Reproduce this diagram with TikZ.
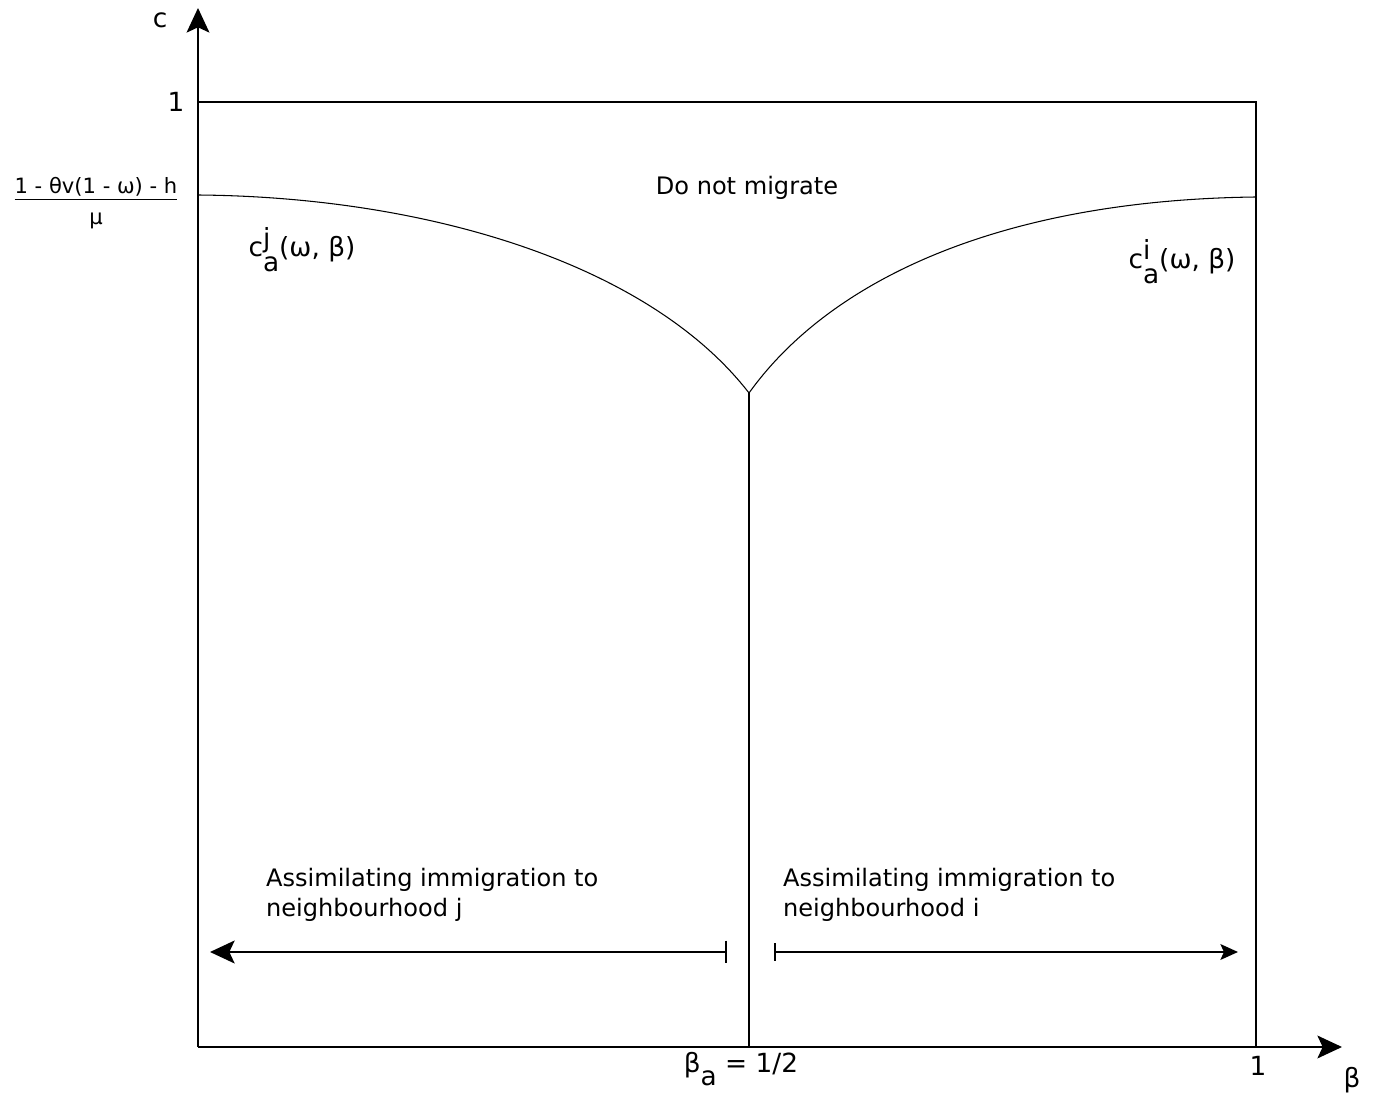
\documentclass[tikz,border=0pt]{standalone}
\usepackage{fontspec}
\setmainfont{DejaVu Sans}
\usetikzlibrary{arrows.meta}

\newcommand{\cthr}[1]{c\rlap{\raisebox{0.32em}{#1}}\raisebox{-0.6em}{a}(ω, β)}

\begin{document}
\begin{tikzpicture}[x=0.02cm, y=-0.02cm,
  every node/.style={font=\fontsize{13.7}{17}\selectfont, inner sep=1pt},
  biglabel/.style={font=\fontsize{15}{18}\selectfont},
  axisline/.style={line width=1.1pt},
  boxline/.style={line width=1pt},
  curveline/.style={line width=0.6pt},
  rangearrow/.style={line width=1.3pt}]
\useasboundingbox (0,0) rectangle (1374,1094);

\coordinate (O) at (198,1047);
\coordinate (ytip) at (198,8);
\coordinate (xtip) at (1342,1047);
\coordinate (topL) at (198,102);
\coordinate (topR) at (1256,102);
\coordinate (botR) at (1256,1047);
\coordinate (thrL) at (198,195);
\coordinate (thrR) at (1256,197);
\coordinate (cusp) at (749,393);
\coordinate (half) at (749,1047);

% axes and box
\draw[axisline, -{Stealth[length=14pt, width=13pt, inset=3pt]}] (O) -- (ytip);
\draw[axisline, -{Stealth[length=14pt, width=13pt, inset=3pt]}] (O) -- (xtip);
\draw[boxline] (topL) -- (topR) -- (botR);
\draw[boxline] (cusp) -- (half);

% thresholds
\draw[curveline] (thrL) .. controls (430,197) and (650,265) .. (cusp);
\draw[curveline] (cusp) .. controls (830,280) and (1000,200) .. (thrR);

% labels
\node[biglabel] (clab) at (160,20) {c};
\node[biglabel] (one) at (176,102) {1};
\node (frac) at (96,204) {\fontsize{12}{14}\selectfont\begin{tabular}{@{}c@{}}1 - θv(1 - ω) - h\\[-1pt]\hline\rule{0pt}{1.2em}μ\end{tabular}};
\node[biglabel] (cj) at (302,250) {\cthr{j}};
\node[biglabel] (ci) at (1182,262) {\cthr{i}};
\node (nomig) at (747,188) {Do not migrate};
\node[anchor=north west, align=left] (assj) at (264,866) {Assimilating immigration to\\neighbourhood j};
\node[anchor=north west, align=left] (assi) at (781,866) {Assimilating immigration to\\neighbourhood i};
\node[biglabel] (betaa) at (741,1069) {β\raisebox{-0.5em}{a} = 1/2};
\node[biglabel] (xone) at (1258,1066) {1};
\node[biglabel] (blab) at (1352,1080) {β};

% ranges
\coordinate (jbar) at (727,952);
\coordinate (jtip) at (210,952);
\coordinate (ibar) at (774,952);
\coordinate (itip) at (1238,952);
\draw[rangearrow, {Bar[width=13pt]}-{Stealth[length=14pt, width=13pt, inset=3pt]}] (jbar) -- (jtip);
\draw[line width=1pt, {Bar[width=10pt]}-{Stealth[length=10pt, width=9pt, inset=2pt]}] (ibar) -- (itip);
\end{tikzpicture}
\end{document}
